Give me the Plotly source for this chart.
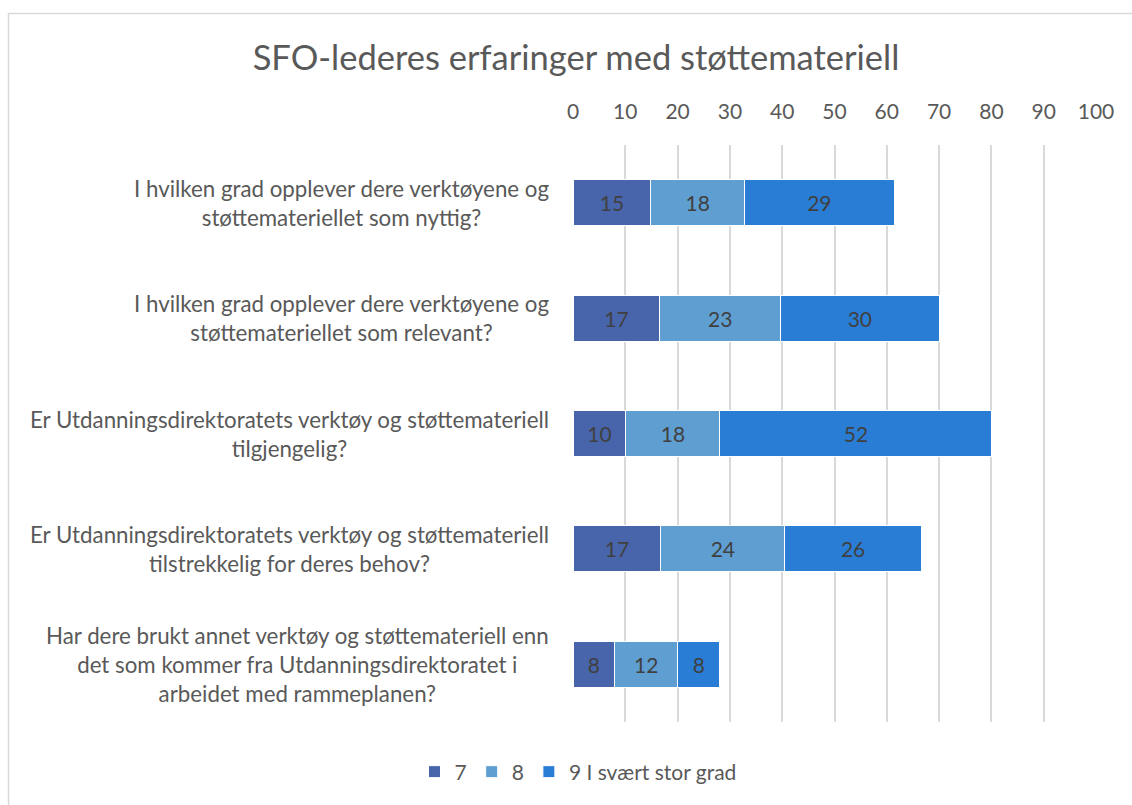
import plotly.graph_objects as go

# questions (top to bottom)
questions = [
    "I hvilken grad opplever dere verktøyene og<br>støttemateriellet som nyttig?",
    "I hvilken grad opplever dere verktøyene og<br>støttemateriellet som relevant?",
    "Er Utdanningsdirektoratets verktøy og støttemateriell<br>tilgjengelig?",
    "Er Utdanningsdirektoratets verktøy og støttemateriell<br>tilstrekkelig for deres behov?",
    "Har dere brukt annet verktøy og støttemateriell enn<br>det som kommer fra Utdanningsdirektoratet i<br>arbeidet med rammeplanen?",
]
cat_ids = ["q1", "q2", "q3", "q4", "q5"]

series_names = ["7", "8", "9 I svært stor grad"]
vals_7 = [14.9, 16.6, 10.1, 16.8, 8.0]
vals_8 = [17.9, 23.1, 18.0, 23.7, 12.0]
vals_9 = [28.6, 30.3, 52.0, 26.1, 8.1]
colors = ["#4865AC", "#5F9ED1", "#2A7DD5"]

x_ticks = [0, 10, 20, 30, 40, 50, 60, 70, 80, 90, 100]

FONT = "Lato, Open Sans, sans-serif"
GREY = "#595959"

fig = go.Figure()
for name, vals, col in zip(series_names, [vals_7, vals_8, vals_9], colors):
    fig.add_trace(go.Bar(
        y=cat_ids, x=vals, name=name, orientation="h",
        marker=dict(color=col, line=dict(color="white", width=1)),
        text=[f"{v:.0f}" for v in vals], textposition="inside",
        insidetextanchor="middle",
        textfont=dict(family=FONT, size=21, color="#404040"),
        hoverinfo="x+name",
    ))

# category labels, centred lines, right aligned block
for cid, q in zip(cat_ids, questions):
    fig.add_annotation(
        x=0, xref="paper", y=cid, yref="y", text=q, showarrow=False,
        xanchor="right", yanchor="middle", align="center", xshift=-22,
        font=dict(family=FONT, size=22.3, color=GREY),
    )

# chart border (Excel chart area)
L, R, T, B = 573, 36, 145, 83
pw, ph = 1132 - L - R, 805 - T - B
fig.add_shape(
    type="rect", xref="paper", yref="paper", layer="below",
    x0=(8.5 - L) / pw, x1=(1145 - L) / pw,
    y0=(805 - B - 815) / ph, y1=(805 - B - 13.5) / ph,
    line=dict(color="#D9D9D9", width=1.5), fillcolor="rgba(0,0,0,0)",
)

fig.update_layout(
    width=1132, height=805,
    margin=dict(l=L, r=R, t=T, b=B),
    paper_bgcolor="white", plot_bgcolor="white",
    barmode="stack", bargap=0.6,
    font=dict(family=FONT, color=GREY),
    title=dict(
        text="SFO-lederes erfaringer med støttemateriell",
        x=576 / 1132, xanchor="center", y=1 - 58 / 805, yanchor="middle",
        font=dict(family=FONT, size=34.5, color=GREY),
    ),
    xaxis=dict(
        side="top", range=[0, 100], tickvals=x_ticks,
        showgrid=True, gridcolor="#D9D9D9", gridwidth=1.5,
        zeroline=False, showline=False, ticks="",
        ticklabelstandoff=21,
        tickfont=dict(family=FONT, size=21, color=GREY),
        fixedrange=True,
    ),
    yaxis=dict(
        autorange="reversed", showticklabels=False, showgrid=False,
        zeroline=False, showline=False, fixedrange=True,
    ),
    legend=dict(
        orientation="h", x=5 / pw, xanchor="center",
        y=-50 / ph, yanchor="middle",
        font=dict(family=FONT, size=21, color=GREY),
        itemwidth=30, traceorder="normal",
    ),
    showlegend=True,
)

fig.write_html(
    "out.html",
    config={"displayModeBar": False},
    post_script="document.body.style.margin='0';document.body.style.overflow='hidden';",
)
